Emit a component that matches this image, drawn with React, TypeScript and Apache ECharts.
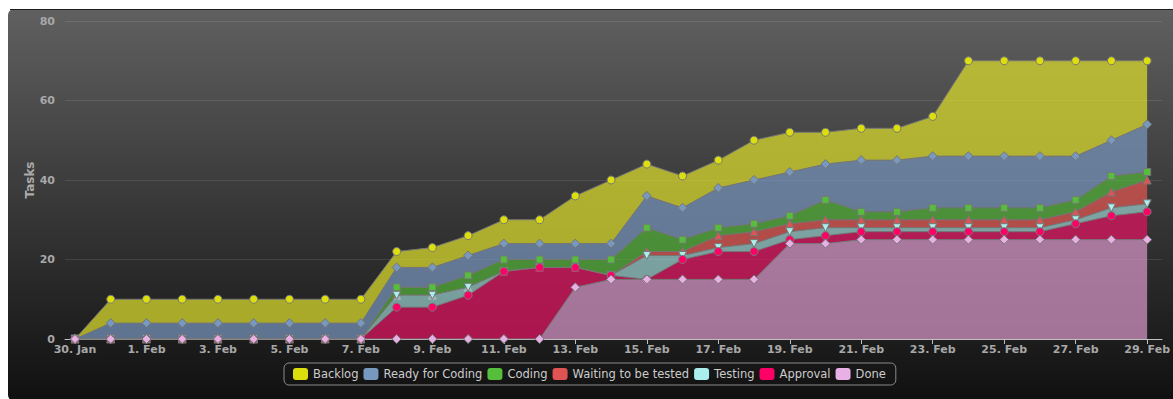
import React, { useEffect, useRef } from 'react';
import * as echarts from 'echarts';

const categories = [
  '30. Jan', '31. Jan', '1. Feb', '2. Feb', '3. Feb', '4. Feb', '5. Feb', '6. Feb', '7. Feb',
  '8. Feb', '9. Feb', '10. Feb', '11. Feb', '12. Feb', '13. Feb', '14. Feb', '15. Feb',
  '16. Feb', '17. Feb', '18. Feb', '19. Feb', '20. Feb', '21. Feb', '22. Feb', '23. Feb',
  '24. Feb', '25. Feb', '26. Feb', '27. Feb', '28. Feb', '29. Feb',
];

const backlog = [0, 6, 6, 6, 6, 6, 6, 6, 6, 4, 5, 5, 6, 6, 12, 16, 8, 8, 7, 10, 10, 8, 8, 8, 10, 24, 24, 24, 24, 20, 16];
const readyForCoding = [0, 4, 4, 4, 4, 4, 4, 4, 4, 5, 5, 5, 4, 4, 4, 4, 8, 8, 10, 11, 11, 9, 13, 13, 13, 13, 13, 13, 11, 9, 12];
const coding = [0, 0, 0, 0, 0, 0, 0, 0, 0, 2, 2, 3, 3, 2, 2, 4, 6, 3, 2, 2, 2, 5, 2, 2, 3, 3, 3, 3, 3, 4, 2];
const waitingToBeTested = [0, 0, 0, 0, 0, 0, 0, 0, 0, 0, 0, 0, 0, 0, 0, 0, 1, 1, 3, 3, 2, 2, 2, 2, 2, 2, 2, 2, 2, 4, 6];
const testing = [0, 0, 0, 0, 0, 0, 0, 0, 0, 3, 3, 2, 0, 0, 0, 0, 6, 1, 1, 2, 2, 2, 1, 1, 1, 1, 1, 1, 1, 2, 2];
const approval = [0, 0, 0, 0, 0, 0, 0, 0, 0, 8, 8, 11, 17, 18, 5, 1, 0, 5, 7, 7, 1, 2, 2, 2, 2, 2, 2, 2, 4, 6, 7];
const done = [0, 0, 0, 0, 0, 0, 0, 0, 0, 0, 0, 0, 0, 0, 13, 15, 15, 15, 15, 15, 24, 24, 25, 25, 25, 25, 25, 25, 25, 25, 25];

const yTicks = [0, 20, 40, 60, 80];

const FONT = 'DejaVu Sans';

type S = {
  name: string;
  data: number[];
  color: string;
  fill: string;
  symbol: string;
  size: number;
  rotate?: number;
  z: number;
};

const seriesDefs: S[] = [
  { name: 'Done', data: done, color: '#e8b0e4', fill: 'rgba(215,150,200,0.72)', symbol: 'diamond', size: 9, z: 9 },
  { name: 'Approval', data: approval, color: '#ff0066', fill: 'rgba(225,20,95,0.72)', symbol: 'circle', size: 8, z: 8 },
  { name: 'Testing', data: testing, color: '#aaeeee', fill: 'rgba(160,215,215,0.68)', symbol: 'triangle', size: 8, rotate: 180, z: 7 },
  { name: 'Waiting to be tested', data: waitingToBeTested, color: '#DF5353', fill: 'rgba(220,85,80,0.75)', symbol: 'triangle', size: 8, z: 6 },
  { name: 'Coding', data: coding, color: '#55BF3B', fill: 'rgba(85,180,60,0.72)', symbol: 'rect', size: 7, z: 5 },
  { name: 'Ready for Coding', data: readyForCoding, color: '#7798BF', fill: 'rgba(120,150,190,0.72)', symbol: 'diamond', size: 9, z: 4 },
  { name: 'Backlog', data: backlog, color: '#DDDF0D', fill: 'rgba(215,215,45,0.75)', symbol: 'circle', size: 8, z: 3 },
];

const legendOrder = ['Backlog', 'Ready for Coding', 'Coding', 'Waiting to be tested', 'Testing', 'Approval', 'Done'];

export default function App() {
  const ref = useRef<HTMLDivElement>(null);
  useEffect(() => {
    const chart = echarts.init(ref.current!, null, { renderer: 'svg' });
    const option: any = {
      animation: false,
      graphic: [
        {
          type: 'rect',
          z: -10,
          silent: true,
          shape: { x: 8, y: 9, width: 1200, height: 392, r: 6 },
          style: {
            fill: new echarts.graphic.LinearGradient(0, 0, 0, 1, [
              { offset: 0, color: 'rgb(96,96,96)' },
              { offset: 1, color: 'rgb(16,16,16)' },
            ]),
          },
        },
        {
          type: 'line',
          z: -9,
          silent: true,
          shape: { x1: 10, y1: 9.5, x2: 1173, y2: 9.5 },
          style: { stroke: '#1c1c1c', lineWidth: 1 },
        },
      ],
      grid: [
        { left: 75, right: 21, top: 21, bottom: 60 },
        { left: 65, right: 11, top: 21, bottom: 60 },
      ],
      xAxis: [
        {
          type: 'category',
          gridIndex: 0,
          data: categories,
          boundaryGap: false,
          axisLine: { show: false },
          axisTick: { show: true, interval: 1, length: 5, lineStyle: { color: '#C0C0C0' } },
          axisLabel: {
            interval: 1,
            color: '#A8A8A8',
            fontWeight: 'bold',
            fontSize: 11,
            fontFamily: FONT,
            margin: 5,
          },
          splitLine: { show: false },
        },
        {
          type: 'value',
          gridIndex: 1,
          min: 0,
          max: 1,
          axisLine: { show: true, lineStyle: { color: '#C0C0C0', width: 1 } },
          axisTick: { show: false },
          axisLabel: { show: false },
          splitLine: { show: false },
        },
      ],
      yAxis: [
        {
          type: 'value',
          gridIndex: 0,
          min: 0,
          max: 80,
          interval: 20,
          name: 'Tasks',
          nameLocation: 'middle',
          nameGap: 39,
          nameRotate: 90,
          nameMoveOverlap: false,
          nameTextStyle: { color: '#AAAAAA', fontWeight: 'bold', fontSize: 12, fontFamily: FONT },
          axisLine: { show: false },
          axisTick: { show: false },
          axisLabel: {
            color: '#A8A8A8',
            fontWeight: 'bold',
            fontSize: 11,
            fontFamily: FONT,
            margin: 20,
            formatter: (v: number) => (yTicks.includes(v) ? String(v) : ''),
          },
          splitLine: { show: false },
        },
        {
          type: 'value',
          gridIndex: 1,
          min: 0,
          max: 80,
          interval: 20,
          axisLine: { show: false },
          axisTick: { show: false },
          axisLabel: { show: false },
          splitLine: { show: true, lineStyle: { color: 'rgba(255,255,255,0.1)', width: 1 } },
        },
      ],
      legend: {
        left: 284,
        top: 363,
        padding: [5, 10, 5, 9],
        itemGap: 5,
        itemWidth: 15,
        itemHeight: 12,
        icon: 'roundRect',
        borderColor: '#8a8a8a',
        borderWidth: 1,
        borderRadius: 5,
        textStyle: { color: '#CCCCCC', fontSize: 11.5, fontFamily: FONT },
        data: legendOrder.map((n) => {
          const d = seriesDefs.find((s) => s.name === n)!;
          return { name: n, itemStyle: { color: d.color, borderWidth: 0 } };
        }),
        selectedMode: false,
      },
      series: seriesDefs.map((s) => ({
        name: s.name,
        type: 'line',
        stack: 'total',
        xAxisIndex: 0,
        yAxisIndex: 0,
        data: s.data,
        symbol: s.symbol,
        symbolSize: s.size,
        symbolRotate: s.rotate || 0,
        showAllSymbol: true,
        z: s.z,
        lineStyle: { color: '#777777', width: 1 },
        itemStyle: { color: s.color, borderColor: '#777777', borderWidth: 1 },
        areaStyle: { color: s.fill, opacity: 1 },
        emphasis: { disabled: true },
      })),
    };
    chart.setOption(option);
    return () => chart.dispose();
  }, []);
  return (
    <div
      ref={ref}
      style={{ position: 'absolute', left: 0, top: 0, width: 1173, height: 399 }}
    />
  );
}
